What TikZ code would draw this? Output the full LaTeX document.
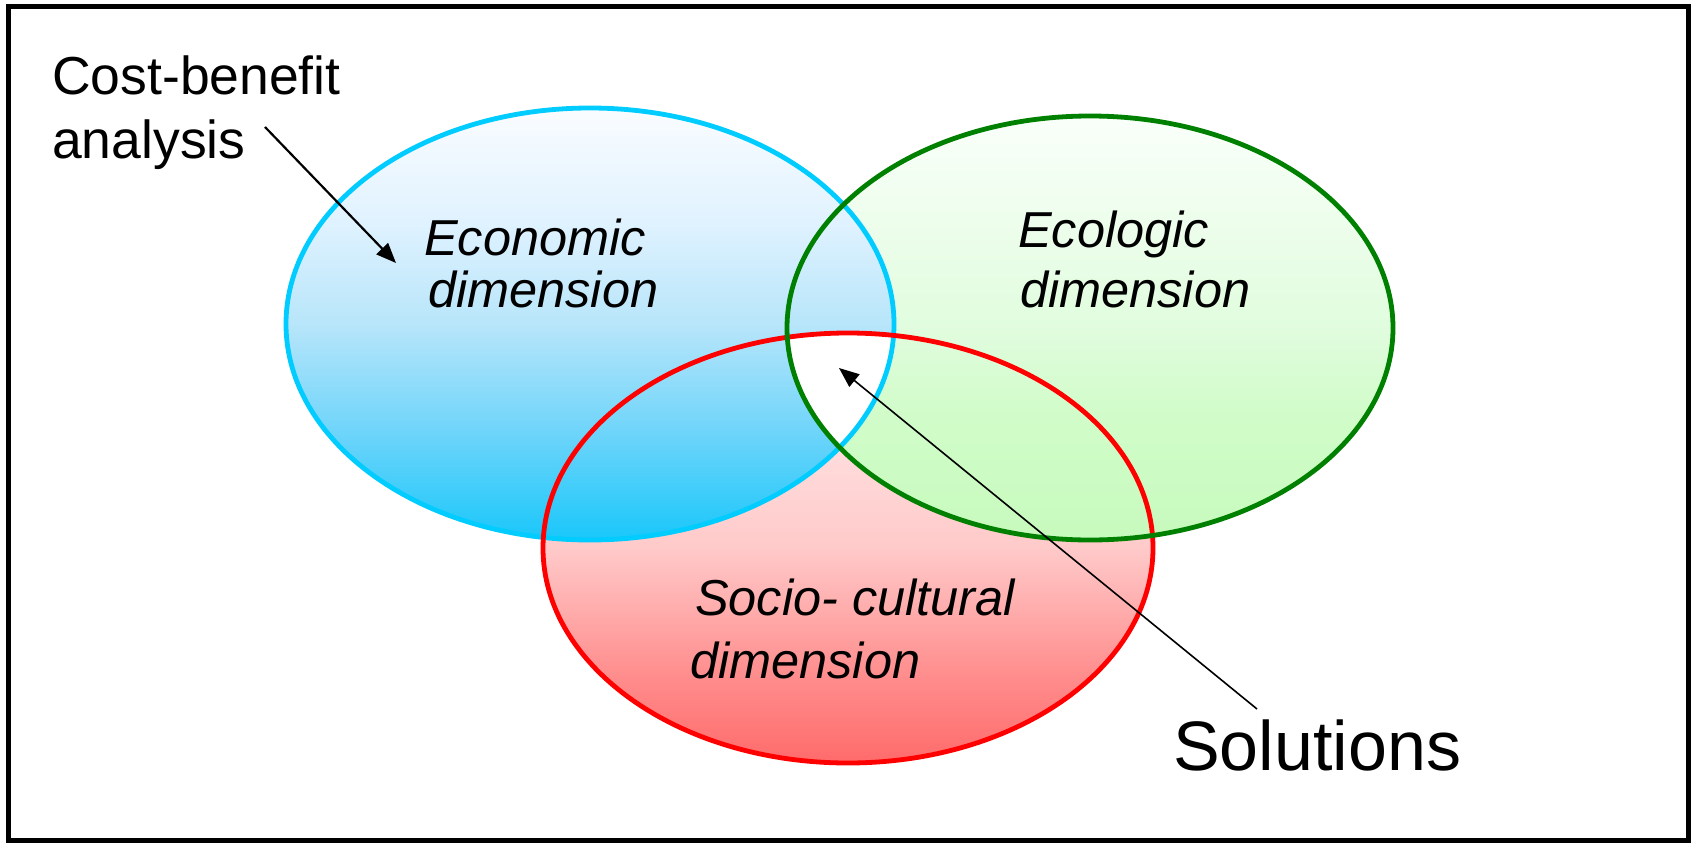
\documentclass[tikz,border=0pt]{standalone}
\usepackage{fontspec}
\setmainfont{Liberation Sans}
\usetikzlibrary{arrows.meta}
\pgfdeclareverticalshading{blueshade}{100bp}{rgb(0bp)=(0.1,0.78,0.98); rgb(25bp)=(0.1,0.78,0.98); rgb(37bp)=(0.42,0.83,0.98); rgb(50bp)=(0.72,0.9,0.98); rgb(62bp)=(0.88,0.95,1); rgb(75bp)=(0.98,0.99,1); rgb(100bp)=(0.98,0.99,1)}
\pgfdeclareverticalshading{greenshade}{100bp}{rgb(0bp)=(0.78,0.98,0.74); rgb(25bp)=(0.78,0.98,0.74); rgb(40bp)=(0.82,0.99,0.79); rgb(50bp)=(0.88,0.99,0.87); rgb(75bp)=(0.98,1,0.98); rgb(100bp)=(0.98,1,0.98)}
\pgfdeclareverticalshading{redshade}{100bp}{rgb(0bp)=(1,0.42,0.42); rgb(25bp)=(1,0.42,0.42); rgb(35bp)=(1,0.55,0.55); rgb(50bp)=(1,0.79,0.79); rgb(75bp)=(1,0.95,0.95); rgb(100bp)=(1,0.95,0.95)}
\definecolor{bluedge}{RGB}{0,204,255}
\definecolor{greenedge}{RGB}{0,128,0}
\definecolor{rededge}{RGB}{255,0,0}
\tikzset{
  edgeline/.style={line width=4.8pt},
  labeltext/.style={anchor=base west, inner sep=0pt, font=\fontsize{50.5}{52}\selectfont\itshape},
  notetext/.style={anchor=base west, inner sep=0pt, font=\fontsize{53.5}{60}\selectfont},
  pointer/.style={-{Triangle[length=20pt,width=16pt]}, line width=2.2pt}
}
\begin{document}
\begin{tikzpicture}[x=1pt,y=-1pt]
\useasboundingbox (0,0) rectangle (1694,843);
\fill[white] (0,0) rectangle (1694,843);
\draw[line width=5pt] (8,7) rectangle (1688,840);
% centres
\coordinate (ec) at (590,324);
\coordinate (gc) at (1090,328);
\coordinate (rc) at (848,548);
% fills
\shade[shading=redshade] (rc) ellipse [x radius=305, y radius=215];
\shade[shading=greenshade] (gc) ellipse [x radius=303, y radius=212];
\shade[shading=blueshade] (ec) ellipse [x radius=304, y radius=216];
\begin{scope}
  \clip (ec) ellipse [x radius=304, y radius=216];
  \clip (gc) ellipse [x radius=303, y radius=212];
  \fill[white] (rc) ellipse [x radius=305, y radius=215];
\end{scope}
% outlines
\draw[edgeline, bluedge] (ec) ellipse [x radius=304, y radius=216];
\draw[edgeline, rededge] (rc) ellipse [x radius=305, y radius=215];
\draw[edgeline, greenedge] (gc) ellipse [x radius=303, y radius=212];
% labels
\node[labeltext] (eco1) at (424,255) {Economic};
\node[labeltext] (eco2) at (428,307) {dimension};
\node[labeltext] (ecl1) at (1018,247) {Ecologic};
\node[labeltext] (ecl2) at (1020,307) {dimension};
\node[labeltext] (soc1) at (695,615) {Socio- cultural};
\node[labeltext] (soc2) at (690,678) {dimension};
\node[notetext] (cba1) at (52,95) {Cost-benefit};
\node[notetext] (cba2) at (52,158) {analysis};
\node[anchor=base west, inner sep=0pt, font=\fontsize{70}{72}\selectfont] (sol) at (1173,770) {Solutions};
% arrows
\coordinate (cbastart) at (265,127);
\coordinate (cbaend) at (396,263);
\coordinate (solstart) at (1257,709);
\coordinate (solend) at (839,368);
\draw[pointer] (cbastart) -- (cbaend);
\draw[pointer, line width=1.6pt] (solstart) -- (solend);
\end{tikzpicture}
\end{document}
